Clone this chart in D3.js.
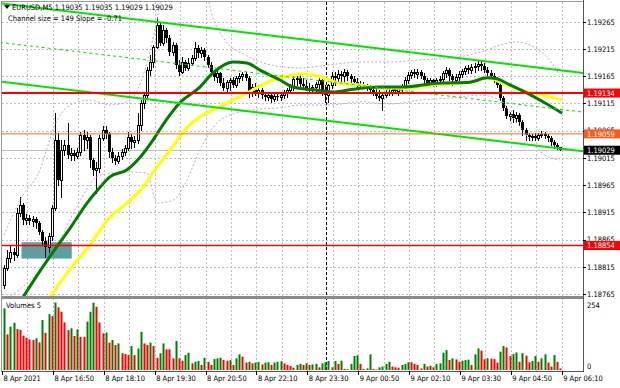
<!DOCTYPE html>
<html><head><meta charset="utf-8">
<script src="https://cdn.jsdelivr.net/npm/d3@7"></script>
<style>body{margin:0;background:#fff;overflow:hidden}svg{display:block;font-family:"DejaVu Sans Condensed","DejaVu Sans",sans-serif;font-stretch:condensed}</style>
</head><body><svg id="c" width="620" height="388"></svg>
<script>
// ---------------- DATA ----------------
const symbolName = "EURUSD,M5";
const headerQuote = [1.19035, 1.19035, 1.19029, 1.19029];
const channelInfo = "Channel size = 149 Slope = -0.71";
const volumeTitle = "Volumes 5";

const opens = [1.18781,1.18812,1.18831,1.18842,1.18836,1.18914,1.18928,1.18901,1.18904,1.18899,
1.18903,1.18895,1.18879,1.18862,1.18851,1.18871,1.18923,1.19048,1.18974,1.19029,
1.19038,1.19020,1.19024,1.19018,1.19026,1.19057,1.19048,1.19053,1.19011,1.18993,
1.18996,1.19051,1.19066,1.19059,1.19026,1.19015,1.19009,1.19018,1.19026,1.19033,
1.19053,1.19044,1.19048,1.19075,1.19116,1.19130,1.19176,1.19191,1.19219,1.19259,
1.19226,1.19250,1.19235,1.19209,1.19222,1.19186,1.19173,1.19191,1.19180,1.19189,
1.19198,1.19217,1.19208,1.19213,1.19200,1.19186,1.19173,1.19164,1.19171,1.19152,
1.19143,1.19154,1.19158,1.19149,1.19162,1.19165,1.19169,1.19162,1.19134,1.19145,
1.19136,1.19140,1.19130,1.19127,1.19130,1.19123,1.19129,1.19127,1.19130,1.19134,
1.19140,1.19147,1.19160,1.19162,1.19151,1.19147,1.19143,1.19140,1.19145,1.19151,
1.19158,1.19140,1.19130,1.19149,1.19165,1.19162,1.19169,1.19165,1.19173,1.19165,
1.19160,1.19154,1.19151,1.19149,1.19147,1.19143,1.19140,1.19136,1.19129,1.19125,
1.19130,1.19136,1.19134,1.19140,1.19138,1.19143,1.19147,1.19158,1.19167,1.19173,
1.19169,1.19173,1.19165,1.19158,1.19152,1.19158,1.19152,1.19158,1.19160,1.19171,
1.19176,1.19165,1.19158,1.19164,1.19169,1.19175,1.19180,1.19176,1.19182,1.19184,
1.19187,1.19184,1.19176,1.19171,1.19165,1.19158,1.19149,1.19125,1.19107,1.19092,
1.19096,1.19088,1.19094,1.19081,1.19066,1.19057,1.19053,1.19055,1.19051,1.19057,
1.19059,1.19055,1.19051,1.19044,1.19038,1.19035];
const highs = [1.18818,1.18846,1.18853,1.18849,1.18923,1.18943,1.18932,1.18912,1.18910,1.18908,
1.18906,1.18899,1.18882,1.18869,1.18877,1.18928,1.19097,1.19061,1.19048,1.19048,
1.19079,1.19033,1.19029,1.19033,1.19062,1.19066,1.19062,1.19057,1.19015,1.19007,
1.19057,1.19073,1.19073,1.19062,1.19033,1.19020,1.19026,1.19031,1.19038,1.19062,
1.19059,1.19055,1.19097,1.19121,1.19136,1.19182,1.19204,1.19222,1.19274,1.19265,
1.19259,1.19254,1.19241,1.19228,1.19226,1.19195,1.19200,1.19195,1.19198,1.19204,
1.19228,1.19222,1.19219,1.19217,1.19204,1.19191,1.19176,1.19176,1.19173,1.19162,
1.19158,1.19162,1.19164,1.19165,1.19171,1.19173,1.19173,1.19165,1.19151,1.19152,
1.19149,1.19143,1.19136,1.19136,1.19134,1.19134,1.19132,1.19136,1.19140,1.19143,
1.19151,1.19165,1.19169,1.19169,1.19162,1.19158,1.19152,1.19149,1.19154,1.19165,
1.19162,1.19149,1.19151,1.19173,1.19173,1.19176,1.19175,1.19178,1.19176,1.19169,
1.19165,1.19162,1.19156,1.19154,1.19151,1.19149,1.19145,1.19143,1.19140,1.19134,
1.19140,1.19141,1.19143,1.19145,1.19147,1.19151,1.19164,1.19173,1.19176,1.19178,
1.19178,1.19176,1.19171,1.19162,1.19162,1.19160,1.19162,1.19165,1.19175,1.19182,
1.19180,1.19169,1.19169,1.19175,1.19178,1.19184,1.19186,1.19187,1.19189,1.19193,
1.19195,1.19189,1.19182,1.19176,1.19171,1.19164,1.19152,1.19129,1.19110,1.19099,
1.19103,1.19099,1.19097,1.19084,1.19070,1.19061,1.19059,1.19061,1.19061,1.19064,
1.19062,1.19059,1.19055,1.19048,1.19042,1.19035];
const lows = [1.18776,1.18809,1.18823,1.18827,1.18833,1.18908,1.18893,1.18893,1.18893,1.18890,
1.18886,1.18875,1.18857,1.18833,1.18842,1.18864,1.18919,1.18965,1.18943,1.19020,
1.19015,1.19011,1.19011,1.19015,1.19020,1.19029,1.19033,1.18998,1.18983,1.18950,
1.18989,1.19048,1.19051,1.19016,1.19007,1.19004,1.19005,1.19013,1.19020,1.19029,
1.19033,1.19035,1.19042,1.19066,1.19107,1.19125,1.19167,1.19182,1.19217,1.19222,
1.19222,1.19228,1.19204,1.19204,1.19180,1.19167,1.19171,1.19176,1.19176,1.19186,
1.19195,1.19200,1.19200,1.19195,1.19182,1.19167,1.19158,1.19154,1.19149,1.19140,
1.19134,1.19140,1.19145,1.19145,1.19154,1.19158,1.19158,1.19127,1.19129,1.19130,
1.19127,1.19125,1.19121,1.19121,1.19118,1.19119,1.19121,1.19121,1.19125,1.19127,
1.19134,1.19140,1.19149,1.19145,1.19143,1.19140,1.19136,1.19136,1.19136,1.19136,
1.19130,1.19118,1.19118,1.19143,1.19149,1.19154,1.19154,1.19152,1.19158,1.19154,
1.19149,1.19145,1.19143,1.19143,1.19140,1.19136,1.19130,1.19125,1.19121,1.19103,
1.19127,1.19130,1.19130,1.19134,1.19130,1.19136,1.19143,1.19152,1.19162,1.19164,
1.19162,1.19162,1.19152,1.19147,1.19147,1.19147,1.19147,1.19149,1.19156,1.19164,
1.19158,1.19149,1.19154,1.19158,1.19164,1.19169,1.19171,1.19171,1.19173,1.19176,
1.19176,1.19173,1.19167,1.19162,1.19154,1.19145,1.19121,1.19103,1.19088,1.19084,
1.19081,1.19081,1.19075,1.19057,1.19048,1.19048,1.19048,1.19048,1.19048,1.19053,
1.19051,1.19046,1.19038,1.19033,1.19031,1.19029];
const closes = [1.18812,1.18831,1.18842,1.18836,1.18914,1.18928,1.18901,1.18904,1.18899,1.18903,
1.18895,1.18879,1.18862,1.18851,1.18871,1.18923,1.19048,1.18974,1.19029,1.19038,
1.19020,1.19024,1.19018,1.19026,1.19057,1.19048,1.19053,1.19011,1.18993,1.18996,
1.19051,1.19066,1.19059,1.19026,1.19015,1.19009,1.19018,1.19026,1.19033,1.19053,
1.19044,1.19048,1.19075,1.19116,1.19130,1.19176,1.19191,1.19219,1.19259,1.19226,
1.19250,1.19235,1.19209,1.19222,1.19186,1.19173,1.19191,1.19180,1.19189,1.19198,
1.19217,1.19208,1.19213,1.19200,1.19186,1.19173,1.19164,1.19171,1.19152,1.19143,
1.19154,1.19158,1.19149,1.19162,1.19165,1.19169,1.19162,1.19134,1.19145,1.19136,
1.19140,1.19130,1.19127,1.19130,1.19123,1.19129,1.19127,1.19130,1.19134,1.19140,
1.19147,1.19160,1.19162,1.19151,1.19147,1.19143,1.19140,1.19145,1.19151,1.19158,
1.19140,1.19130,1.19149,1.19165,1.19162,1.19169,1.19165,1.19173,1.19165,1.19160,
1.19154,1.19151,1.19149,1.19147,1.19143,1.19140,1.19136,1.19129,1.19125,1.19130,
1.19136,1.19134,1.19140,1.19138,1.19143,1.19147,1.19158,1.19167,1.19173,1.19169,
1.19173,1.19165,1.19158,1.19152,1.19158,1.19152,1.19158,1.19160,1.19171,1.19176,
1.19165,1.19158,1.19164,1.19169,1.19175,1.19180,1.19176,1.19182,1.19184,1.19187,
1.19184,1.19176,1.19171,1.19165,1.19158,1.19149,1.19125,1.19107,1.19092,1.19096,
1.19088,1.19094,1.19081,1.19066,1.19057,1.19053,1.19055,1.19051,1.19057,1.19059,
1.19055,1.19051,1.19044,1.19038,1.19035,1.19029];
const volumes = [232,134,163,178,154,151,129,121,115,113,
119,104,188,140,210,203,254,236,219,179,
150,157,128,153,125,125,182,219,253,238,
179,138,141,103,113,94,100,63,60,56,
90,56,81,144,100,94,103,90,46,63,
100,78,78,44,109,44,35,56,65,25,
31,34,19,46,31,19,41,44,46,38,
35,37,19,44,59,50,28,31,25,28,
30,21,28,29,19,28,31,33,25,19,
15,9,19,23,19,25,
19,21,23,10,25,29,34,10,34,23,
35,4,3,23,53,55,23,4,6,59,
4,2,10,13,23,31,13,10,9,19,
23,29,29,23,19,6,23,13,16,10,
23,25,65,75,38,44,40,31,35,37,
39,19,59,81,73,40,44,43,41,28,
69,90,85,53,60,66,31,63,54,29,
34,53,31,44,59,28,13,56,31,6];

// moving averages (bar index, value)
const maFastBars = [5.0,11.3,17.0,20.8,26.1,30.2,33.3,38.7,42.8,46.9,50.6,55.3,61.6,65.7,72.0,76.4,80.5,86.8,90.9,97.2,103.5,109.7,118.2,125.5,136.2,146.5,151.9,155.0,159.1,164.5,169.5,175.5];
const maFastVals = [1.18750,1.18807,1.18855,1.18886,1.18932,1.18961,1.18980,1.18993,1.19016,1.19048,1.19081,1.19116,1.19145,1.19171,1.19191,1.19189,1.19176,1.19158,1.19145,1.19140,1.19136,1.19141,1.19145,1.19145,1.19152,1.19154,1.19162,1.19160,1.19149,1.19134,1.19118,1.19097];
const maSlowBars = [12.9,14.5,19.8,27.0,33.3,38.7,43.7,48.1,52.2,57.5,61.6,65.7,72.0,78.3,84.6,90.9,95.3,100.3,105.7,111.9,118.2,125.5,136.2,146.5,151.9,156.9,164.5,169.5,175.5];
const maSlowVals = [1.18744,1.18759,1.18803,1.18855,1.18906,1.18932,1.18961,1.18998,1.19029,1.19070,1.19090,1.19103,1.19121,1.19140,1.19158,1.19167,1.19169,1.19162,1.19152,1.19149,1.19143,1.19143,1.19149,1.19154,1.19162,1.19152,1.19136,1.19130,1.19121];

// bands
const bandUpBars = [0,5.0,11.3,16.0,20.8,27.0,33.3,39.6,44.3,47.5,50.0,63.2,65.4,69.5,75.8,83.6,93.1,102.5,112.0,121.4,130.8,140.3,149.7,156.0,160.7,165.4,170.1,174.8];
const bandUpVals = [1.18873,1.18937,1.18993,1.19075,1.19112,1.19121,1.19112,1.19121,1.19176,1.19250,1.19314,1.19323,1.19277,1.19231,1.19204,1.19186,1.19180,1.19186,1.19191,1.19191,1.19195,1.19198,1.19209,1.19222,1.19228,1.19222,1.19204,1.19167];
const bandLoBars = [0,8.2,16.0,22.3,30.2,39.6,45.0,48.1,53.1,57.5,61.6,67.9,77.4,86.8,93.1,102.5,112.0,121.4,130.8,140.3,149.7,156.0,160.7,165.4,170.1,174.8];
const bandLoVals = [1.18754,1.18790,1.18846,1.18919,1.18983,1.18989,1.18987,1.18932,1.18937,1.18974,1.19029,1.19084,1.19103,1.19107,1.19112,1.19112,1.19118,1.19114,1.19121,1.19125,1.19130,1.19121,1.19084,1.19048,1.19020,1.19011];

// regression channel endpoints
const channelBars = [-1.26, 182.1];
const channelUpper = [1.19299, 1.19171];
const channelMiddle = [1.19227, 1.19099];
const channelLower = [1.19155, 1.19027];

// horizontal levels
const levelPrices = [1.19134, 1.19059, 1.18854];
const bidPrice = 1.19029;

// zone rectangle
const zoneBars = [5.5, 21.3];
const zonePrices = [1.18860, 1.18830];

// axes
const priceTicks = [1.19265,1.19215,1.19165,1.19115,1.19065,1.19015,1.18965,1.18915,1.18865,1.18815,1.18765];
const timeTickBars = [0,16,32,48,64,80,96,112,128,144,160,176];
const timeTickLabels = ["8 Apr 2021","8 Apr 16:50","8 Apr 18:10","8 Apr 19:30","8 Apr 20:50","8 Apr 22:10","8 Apr 23:30","9 Apr 00:50","9 Apr 02:10","9 Apr 03:30","9 Apr 04:50","9 Apr 06:10"];
const gridBars = d3.range(8, 177, 8);
const dayBreakBar = 102;
const volMax = 254;

// ---------------- DRAW ----------------
const svg = d3.select('#c');
const X0 = 2, X1 = 583, MT = 2, MB = 296, VT = 299, VB = 371;
const FS = 7.5;
const x = d3.scaleLinear().domain([0, 176]).range([4, 563.68]);
const y = d3.scaleLinear().domain([1.18765, 1.19265]).range([294, 21.7]);
const yv = d3.scaleLinear().domain([0, volMax]).range([370, 302.5]);

svg.append('rect').attr('width', 620).attr('height', 388).attr('fill', '#fff');
const defs = svg.append('defs');
defs.append('clipPath').attr('id', 'cm').append('rect').attr('x', X0).attr('y', MT).attr('width', X1 - X0).attr('height', MB - MT);
defs.append('clipPath').attr('id', 'cv').append('rect').attr('x', X0).attr('y', VT).attr('width', X1 - X0).attr('height', VB - VT);

const gm = svg.append('g').attr('clip-path', 'url(#cm)');
const gv = svg.append('g').attr('clip-path', 'url(#cv)');
const px = v => Math.round(v) + 0.5;

// grid
gm.selectAll('.hg').data(priceTicks).join('line')
  .attr('x1', X0).attr('x2', X1).attr('y1', d => px(y(d))).attr('y2', d => px(y(d)))
  .attr('stroke', '#c0c0c0').attr('stroke-dasharray', '2,2');
[gm, gv].forEach(g => {
  g.selectAll('.vg').data(gridBars).join('line')
    .attr('x1', d => px(x(d) - 2)).attr('x2', d => px(x(d) - 2)).attr('y1', MT).attr('y2', VB)
    .attr('stroke', '#c0c0c0').attr('stroke-dasharray', '2,2');
  g.append('line').attr('x1', px(x(dayBreakBar) - 2)).attr('x2', px(x(dayBreakBar) - 2)).attr('y1', MT).attr('y2', VB)
    .attr('stroke', '#000').attr('stroke-dasharray', '3,2');
});

// zone
gm.append('rect').attr('x', x(zoneBars[0])).attr('width', x(zoneBars[1]) - x(zoneBars[0]))
  .attr('y', y(zonePrices[0])).attr('height', y(zonePrices[1]) - y(zonePrices[0])).attr('fill', '#5f9ea0');

// bid line
gm.append('line').attr('x1', X0).attr('x2', X1).attr('y1', px(y(bidPrice))).attr('y2', px(y(bidPrice))).attr('stroke', '#c0c0c0');

// candles
const candles = opens.map((o, i) => ({ i, o, h: highs[i], l: lows[i], c: closes[i] }));
gm.selectAll('.wk').data(candles).join('line')
  .attr('x1', d => px(x(d.i))).attr('x2', d => px(x(d.i)))
  .attr('y1', d => Math.round(y(d.h))).attr('y2', d => Math.round(y(d.l)) + 1)
  .attr('stroke', '#000');
gm.selectAll('.bd').data(candles).join('rect')
  .attr('x', d => d.c > d.o ? px(x(d.i)) - 1 : px(x(d.i)) - 1.5)
  .attr('width', d => d.c > d.o ? 2 : 3)
  .attr('y', d => { const t = Math.round(y(Math.max(d.o, d.c))); return d.c > d.o ? t + 0.5 : t; })
  .attr('height', d => { const t = Math.round(y(Math.max(d.o, d.c))), b = Math.round(y(Math.min(d.o, d.c))); return Math.max(b - t, 1); })
  .attr('fill', d => d.c > d.o ? '#fff' : '#000')
  .attr('stroke', d => d.c > d.o ? '#000' : 'none');

// bands
const lineGen = d3.line().x(d => x(d[0])).y(d => y(d[1])).curve(d3.curveMonotoneX);
[[bandUpBars, bandUpVals], [bandLoBars, bandLoVals]].forEach(([b, v]) => {
  gm.append('path').attr('d', lineGen(b.map((bb, k) => [bb, v[k]])))
    .attr('fill', 'none').attr('stroke', '#c9a0e8').attr('stroke-width', 1).attr('stroke-dasharray', '2,2');
});

// MAs
gm.append('path').attr('d', lineGen(maSlowBars.map((b, k) => [b, maSlowVals[k]])))
  .attr('fill', 'none').attr('stroke', '#ffff00').attr('stroke-width', 3);
gm.append('path').attr('d', lineGen(maFastBars.map((b, k) => [b, maFastVals[k]])))
  .attr('fill', 'none').attr('stroke', '#007d00').attr('stroke-width', 3);

// channel
const straight = d3.line().x(d => x(d[0])).y(d => y(d[1]));
[[channelUpper, 2, null], [channelMiddle, 1, '3,3'], [channelLower, 2, null]].forEach(([vals, w, dash]) => {
  gm.append('path').attr('d', straight(channelBars.map((b, k) => [b, vals[k]])))
    .attr('stroke', '#00e400').attr('stroke-width', w).attr('fill', 'none').attr('stroke-dasharray', dash);
});

// levels
const levelStyle = [{ c: '#ff0000', w: 2 }, { c: '#ff6a1a', w: 1 }, { c: '#ff0000', w: 1.5 }];
gm.selectAll('.lv').data(levelPrices).join('line')
  .attr('x1', X0).attr('x2', X1).attr('y1', d => y(d)).attr('y2', d => y(d))
  .attr('stroke', (d, k) => levelStyle[k].c).attr('stroke-width', (d, k) => levelStyle[k].w);

// volumes
gv.selectAll('.vb').data(volumes).join('rect')
  .attr('x', (d, i) => Math.round(x(i)) - 0.5).attr('width', 2)
  .attr('y', d => yv(d)).attr('height', d => yv(0) - yv(d))
  .attr('fill', (d, i) => (i === 0 || d > volumes[i - 1]) ? '#008000' : '#ff0000');

// separator & frame
svg.append('rect').attr('x', X0).attr('y', MB).attr('width', X1 - X0).attr('height', 3).attr('fill', '#8a8a8a');
svg.append('line').attr('x1', 1.5).attr('x2', 1.5).attr('y1', 1).attr('y2', VB).attr('stroke', '#9a9a9a');
svg.append('line').attr('x1', 1.5).attr('x2', X1).attr('y1', 1.5).attr('y2', 1.5).attr('stroke', '#9a9a9a');
svg.append('line').attr('x1', X1 + 0.5).attr('x2', X1 + 0.5).attr('y1', 0).attr('y2', VB + 1).attr('stroke', '#555');
svg.append('line').attr('x1', 1.5).attr('x2', X1 + 1).attr('y1', VB + 0.5).attr('y2', VB + 0.5).attr('stroke', '#555');

// right axis
const ra = svg.append('g').attr('font-size', FS);
ra.selectAll('.tk').data(priceTicks).join('line')
  .attr('x1', X1).attr('x2', X1 + 3).attr('y1', d => px(y(d))).attr('y2', d => px(y(d))).attr('stroke', '#000');
ra.selectAll('.tl').data(priceTicks).join('text')
  .attr('x', 587).attr('y', d => y(d) + 2.8).text(d => d.toFixed(5)).attr('fill', '#000');
ra.append('text').attr('x', 587).attr('y', 308).text(volMax);
ra.append('text').attr('x', 587).attr('y', 369).text(0);

// colored price labels
const tagColors = ['#ff0000', '#ff5a1e', '#ff0000'];
const tags = levelPrices.map((p, k) => ({ p, c: tagColors[k] })).concat([{ p: bidPrice, c: '#000' }]);
const tg = ra.selectAll('.tag').data(tags).join('g');
tg.append('rect').attr('x', 584).attr('y', d => y(d.p) - 4.5).attr('width', 36).attr('height', 9).attr('fill', d => d.c);
tg.append('text').attr('x', 587).attr('y', d => y(d.p) + 2.8).attr('fill', '#fff').text(d => d.p.toFixed(5));

// time axis
const ta = svg.append('g').attr('font-size', FS);
ta.selectAll('.tt').data(timeTickBars).join('line')
  .attr('x1', d => px(x(d) - 2)).attr('x2', d => px(x(d) - 2)).attr('y1', VB).attr('y2', VB + 4).attr('stroke', '#000');
ta.selectAll('.tx').data(timeTickBars).join('text')
  .attr('x', d => x(d) - 0.5).attr('y', 381).text((d, k) => timeTickLabels[k]);

// header
const hd = svg.append('g').attr('font-size', FS);
hd.append('path').attr('d', 'M4,5 L10,5 L7,9 Z').attr('fill', '#000');
hd.append('text').attr('x', 12).attr('y', 9.5).text(symbolName + ' ' + headerQuote.map(v => v.toFixed(5)).join(' '));
hd.append('text').attr('x', 8).attr('y', 20.5).text(channelInfo);
svg.append('text').attr('font-size', FS).attr('x', 6).attr('y', 308).text(volumeTitle);
</script></body></html>
